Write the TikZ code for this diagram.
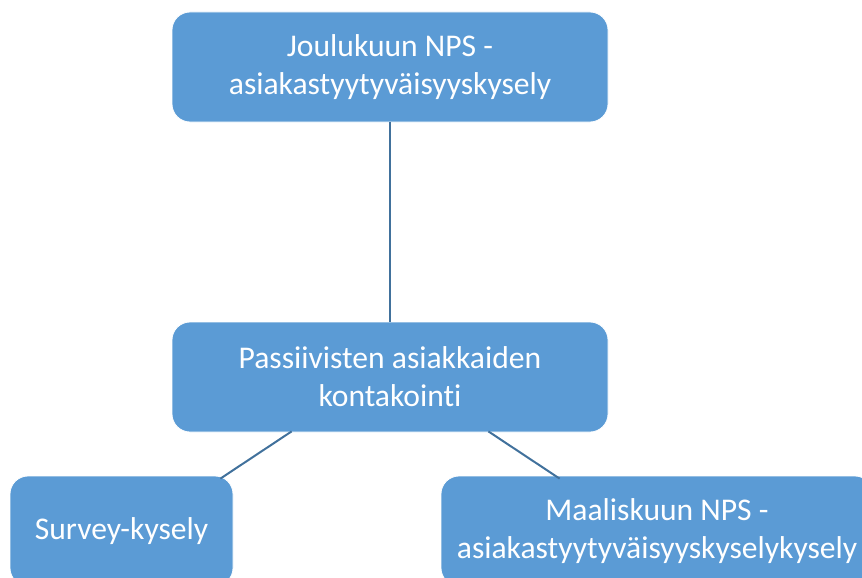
\documentclass[tikz,border=0pt]{standalone}
\usepackage{fontspec}
\setmainfont{Carlito}[Ligatures=NoCommon]
\definecolor{boxfill}{HTML}{5B9BD5}
\definecolor{linkcol}{HTML}{41719C}
\begin{document}
\begin{tikzpicture}[x=1pt,y=-1pt,
  orgbox/.style={draw=white, line width=0.8pt, fill=boxfill, rounded corners=18pt,
    minimum height=110pt, inner sep=0pt, align=center, text=white,
    font=\fontsize{31.6}{38}\selectfont},
  link/.style={draw=linkcol, line width=2pt}]
  \useasboundingbox (0,0) rectangle (862,578);
  \clip (0,0) rectangle (862,578);

  % boxes
  \node[orgbox, minimum width=436pt] (top) at (390,67)
    {Joulukuun NPS -\\asiakastyytyväisyyskysely};
  \node[orgbox, minimum width=436pt] (mid) at (390,377)
    {Passiivisten asiakkaiden\\kontakointi};
  \node[orgbox, minimum width=223pt] (sl) at (121.5,531)
    {Survey-kysely};
  \node[orgbox, minimum width=432pt] (sr) at (657,531)
    {Maaliskuun NPS -\\asiakastyytyväisyyskyselykysely};

  % connectors
  \draw[link] (top.south) -- (mid.north);
  \draw[link] ([xshift=120pt,yshift=1pt]mid.south west) -- ([xshift=-13pt,yshift=-3pt]sl.north east);
  \draw[link] ([xshift=-120pt,yshift=1pt]mid.south east) -- ([xshift=119pt,yshift=-3pt]sr.north west);
\end{tikzpicture}
\end{document}
